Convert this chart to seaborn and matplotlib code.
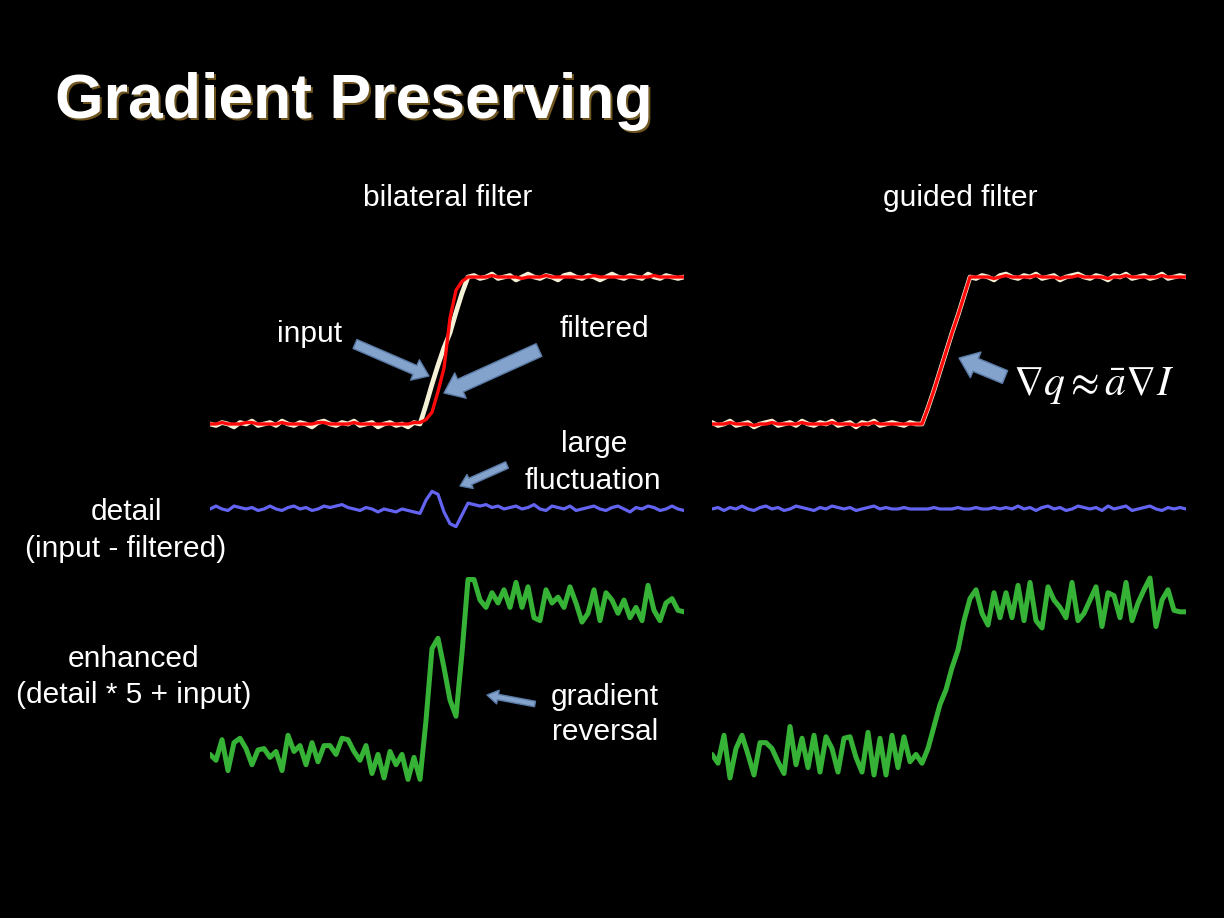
import numpy as np
import pandas as pd
import matplotlib
matplotlib.use("Agg")
import matplotlib.pyplot as plt
import seaborn as sns
from matplotlib.patches import FancyArrowPatch

# ---------------- data (signal units: 0 = low level, 1 = high level) ----------------
sample_idx = list(range(80))

# bilateral filter column
bf_input = [0.0, -0.01, 0.01, 0.0, -0.02, 0.01, 0.0, 0.02, -0.01, 0.0, 0.01, -0.01, 0.02, 0.0, -0.01, 0.01,
            0.0, -0.02, 0.01, 0.02, 0.0, -0.01, 0.01, 0.0, 0.02, -0.01, 0.0, 0.01, -0.02, 0.0, 0.01, -0.01,
            0.0, -0.02, 0.01, 0.0,
            0.13, 0.27, 0.40, 0.52, 0.62, 0.76, 0.89, 1.0,
            1.01, 0.99, 1.0, 1.02, 0.99, 1.0, 1.01, 0.98, 1.0, 1.02, 1.0, 0.99, 1.01, 1.0, 0.98, 1.01,
            1.02, 1.0, 0.99, 1.01, 1.0, 0.98, 1.0, 1.02, 1.0, 0.99, 1.01, 1.0, 0.99, 1.02, 1.0, 0.99,
            1.01, 1.0, 0.99, 1.0]
bf_filtered = [0.0, 0.0, 0.01, 0.0, 0.0, 0.0, 0.01, 0.01, 0.0, 0.0, 0.0, 0.0, 0.01, 0.0, 0.0, 0.0,
               0.0, 0.0, 0.01, 0.01, 0.0, 0.0, 0.0, 0.0, 0.01, 0.0, 0.0, 0.0, 0.0, 0.0, 0.0, 0.0,
               0.0, 0.0, 0.01, 0.01,
               0.03, 0.08, 0.22, 0.38, 0.72, 0.91, 0.97, 1.0,
               1.0, 1.0, 1.0, 1.01, 1.0, 1.0, 1.0, 1.0, 0.99, 1.0, 1.0, 1.0, 1.01, 1.0, 1.0, 1.0,
               1.0, 1.0, 1.0, 1.0, 1.01, 1.0, 1.0, 1.0, 1.0, 1.0, 1.0, 1.0, 1.0, 1.0, 1.01, 1.0,
               1.0, 1.0, 1.0, 1.0]
bf_detail = [0.0, 0.02, 0.0, -0.01, 0.02, 0.01, 0.0, 0.01, -0.01, 0.0, 0.02, 0.0, -0.01, 0.01, 0.02, 0.0,
             0.01, -0.01, 0.0, 0.02, 0.01, 0.02, 0.03, 0.01, 0.0, -0.01, 0.01, 0.0, -0.02, 0.0, -0.01, -0.02,
             0.0, -0.01, -0.02, -0.03,
             0.06, 0.12, 0.10, -0.02, -0.10, -0.12, -0.04, 0.04,
             0.03, 0.02, 0.03, 0.01, 0.02, 0.0, 0.01, 0.02, 0.0, 0.01, 0.03, 0.0, -0.01, 0.02, 0.01, 0.0,
             0.02, -0.01, 0.0, 0.01, 0.02, 0.0, -0.01, 0.01, 0.02, 0.0, -0.02, 0.01, 0.0, 0.02, 0.01, -0.01,
             0.0, 0.02, 0.0, -0.01]
bf_enhanced = [-0.03, -0.07, 0.07, -0.14, 0.05, 0.08, 0.01, -0.10, 0.0, 0.01, -0.05, -0.01, -0.14, 0.10,
               -0.01, 0.03, -0.10, 0.05, -0.08, 0.03, 0.03, -0.03, 0.08, 0.07, -0.01, -0.07, 0.03, -0.16,
               -0.03, -0.19, -0.01, -0.10, -0.03, -0.20, -0.05, -0.20,
               0.20, 0.69, 0.76, 0.56, 0.34, 0.23, 0.66, 1.16,
               1.16, 1.02, 0.97, 1.07, 1.0, 1.09, 0.97, 1.14, 0.97, 1.11, 0.90, 0.88, 1.09, 1.0, 1.04, 0.97,
               1.11, 1.0, 0.87, 0.93, 1.09, 0.88, 1.07, 1.02, 0.93, 1.02, 0.90, 0.97, 0.88, 1.12, 0.95, 0.88,
               1.0, 1.03, 0.95, 0.94]

# guided filter column
gf_input = [0.01, -0.01, 0.0, 0.02, -0.01, 0.0, 0.01, -0.02, 0.0, 0.01, 0.02, -0.01, 0.0, 0.01, -0.01, 0.02,
            0.0, -0.01, 0.01, 0.0, 0.02, -0.01, 0.0, 0.01, -0.02, 0.01, 0.0, 0.02, -0.01, 0.0, 0.01, 0.0,
            -0.01, 0.01, 0.0, 0.0,
            0.11, 0.23, 0.36, 0.49, 0.62, 0.74, 0.87, 1.0,
            0.99, 1.01, 1.0, 0.98, 1.01, 1.02, 1.0, 0.99, 1.01, 1.0, 1.02, 0.99, 1.0, 1.01, 0.98, 1.0,
            1.01, 1.02, 1.0, 0.99, 1.01, 1.0, 0.98, 1.01, 1.0, 1.02, 0.99, 1.0, 1.01, 0.99, 1.0, 1.02,
            0.99, 1.0, 1.01, 1.0]
gf_filtered = [0.0, 0.0, 0.0, 0.01, 0.0, 0.0, 0.0, -0.01, 0.0, 0.0, 0.01, 0.0, 0.0, 0.0, 0.0, 0.01,
               0.0, 0.0, 0.0, 0.0, 0.01, 0.0, 0.0, 0.0, -0.01, 0.0, 0.0, 0.01, 0.0, 0.0, 0.0, 0.0,
               0.0, 0.0, 0.0, 0.0,
               0.11, 0.23, 0.36, 0.49, 0.62, 0.74, 0.87, 1.0,
               1.0, 1.0, 1.0, 0.99, 1.0, 1.01, 1.0, 1.0, 1.0, 1.0, 1.01, 1.0, 1.0, 1.0, 0.99, 1.0,
               1.0, 1.01, 1.0, 1.0, 1.0, 1.0, 0.99, 1.0, 1.0, 1.01, 1.0, 1.0, 1.0, 1.0, 1.0, 1.01,
               1.0, 1.0, 1.0, 1.0]
gf_detail = [0.0, 0.01, -0.01, 0.01, 0.0, 0.02, 0.0, -0.01, 0.01, 0.02, 0.0, 0.01, -0.01, 0.0, 0.02, 0.01,
             0.0, -0.01, 0.01, 0.0, 0.02, 0.01, 0.0, 0.01, -0.01, 0.0, 0.01, 0.02, 0.0, 0.01, 0.0, 0.0,
             0.01, 0.0, 0.0, 0.0,
             0.0, 0.01, 0.0, 0.0, 0.0, 0.01, 0.0, 0.0,
             0.01, 0.0, 0.0, 0.01, 0.0, 0.01, 0.0, 0.02, 0.0, 0.01, -0.01, 0.01, 0.02, 0.0, 0.01, -0.01,
             0.0, 0.02, 0.01, 0.0, 0.01, -0.01, 0.02, 0.0, 0.01, 0.02, -0.01, 0.0, 0.01, 0.02, 0.0, -0.01,
             0.01, 0.0, 0.01, 0.0]
gf_enhanced = [-0.03, -0.09, 0.10, -0.19, 0.01, 0.10, -0.03, -0.17, 0.05, 0.05, 0.01, -0.08, -0.16, 0.16,
               -0.10, 0.08, -0.12, 0.10, -0.15, 0.09, 0.01, -0.15, 0.08, 0.09, -0.05, -0.15, 0.12, -0.17,
               0.08, -0.17, 0.10, -0.12, 0.09, -0.08, -0.03, -0.09,
               0.01, 0.16, 0.31, 0.41, 0.56, 0.68, 0.88, 1.03,
               1.09, 0.93, 0.85, 1.07, 0.90, 1.07, 0.90, 1.12, 0.88, 1.14, 0.88, 0.83, 1.11, 1.02, 0.97, 0.90,
               1.14, 0.88, 0.93, 1.02, 1.11, 0.84, 1.07, 1.05, 0.90, 1.14, 0.88, 1.0, 1.09, 1.17, 0.84, 1.02,
               1.09, 0.95, 0.94, 0.94]

column_titles = ["bilateral filter", "guided filter"]

# ---------------- styling / layout ----------------
sns.set_theme(style="dark")
plt.rcParams['font.family'] = ['Liberation Sans', 'DejaVu Sans']
plt.rcParams['mathtext.fontset'] = 'stix'

W, H = 1224, 918
fig = plt.figure(figsize=(W / 100, H / 100), dpi=100, facecolor='black')

PX_PER_UNIT = 147.0
TOP_BASE, DETAIL_BASE, ENH_BASE = 424, 509, 750
detail_off = (TOP_BASE - DETAIL_BASE) / PX_PER_UNIT
enh_off = (TOP_BASE - ENH_BASE) / PX_PER_UNIT
ax_top_px, ax_bot_px = 250, 800

C_INPUT = '#F4F1D6'
C_FILT = '#FF0A0A'
C_DETAIL = '#6464F2'
C_ENH = '#36B236'


def make_col_axes(left_px, right_px):
    ax = fig.add_axes([left_px / W, (H - ax_bot_px) / H, (right_px - left_px) / W,
                       (ax_bot_px - ax_top_px) / H])
    ax.set_facecolor('black')
    ax.set_xlim(0, len(sample_idx) - 1)
    ax.set_ylim((TOP_BASE - ax_bot_px) / PX_PER_UNIT, (TOP_BASE - ax_top_px) / PX_PER_UNIT)
    ax.axis('off')
    return ax


cols = [
    (make_col_axes(210, 684), bf_input, bf_filtered, bf_detail, bf_enhanced),
    (make_col_axes(712, 1186), gf_input, gf_filtered, gf_detail, gf_enhanced),
]

for ax, inp, filt, det, enh in cols:
    df = pd.DataFrame({'i': sample_idx, 'input': inp, 'filtered': filt,
                       'detail': det, 'enhanced': enh})
    df['detail_pos'] = df['detail'] + detail_off
    df['enh_pos'] = df['enhanced'] + enh_off
    sns.lineplot(data=df, x='i', y='input', ax=ax, color=C_INPUT, linewidth=3.4)
    sns.lineplot(data=df, x='i', y='filtered', ax=ax, color=C_FILT, linewidth=2.4)
    sns.lineplot(data=df, x='i', y='detail_pos', ax=ax, color=C_DETAIL, linewidth=2.3)
    sns.lineplot(data=df, x='i', y='enh_pos', ax=ax, color=C_ENH, linewidth=3.6)
    ax.set_xlim(0, len(sample_idx) - 1)

# ---------------- overlay for text & annotation arrows ----------------
ov = fig.add_axes([0, 0, 1, 1], facecolor='none')
ov.set_xlim(0, W)
ov.set_ylim(H, 0)
ov.axis('off')

# title with shadow
ov.text(57, 120, "Gradient Preserving", fontsize=45, fontweight='bold', color='#6E5520',
        ha='left', va='baseline')
ov.text(55, 118, "Gradient Preserving", fontsize=45, fontweight='bold', color='white',
        ha='left', va='baseline')

lab = dict(color='white', fontsize=21.5, ha='center', va='center')
ov.text(448, 198, column_titles[0], **lab)
ov.text(960, 198, column_titles[1], **lab)
ov.text(310, 334, "input", **lab)
ov.text(604, 329, "filtered", **lab)
ov.text(594, 444, "large", **lab)
ov.text(593, 481, "fluctuation", **lab)
ov.text(126, 512, "detail", **lab)
ov.text(126, 549, "(input - filtered)", **lab)
ov.text(134, 659, "enhanced", **lab)
ov.text(134, 695, "(detail * 5 + input)", **lab)
ov.text(605, 697, "gradient", **lab)
ov.text(605, 732, "reversal", **lab)
ov.text(1013, 386, r"$\nabla q \approx \bar{a}\nabla I$", color='white', fontsize=30,
        ha='left', va='center')


def block_arrow(tail, tip, tail_w, head_w, head_l):
    p = FancyArrowPatch(tail, tip,
                        arrowstyle=f"simple,head_length={head_l},head_width={head_w},tail_width={tail_w}",
                        facecolor='#84A3CC', edgecolor='#5A7BA6', linewidth=1.0,
                        shrinkA=0, shrinkB=0, mutation_scale=1)
    ov.add_patch(p)


block_arrow((355, 344), (429, 376), 7, 16, 11)
block_arrow((539, 350), (444, 393), 10, 20, 13)
block_arrow((1005, 377), (959, 358), 10, 20, 13)
block_arrow((507, 465), (460, 486), 5, 11, 8)
block_arrow((535, 704), (487, 695), 4, 10, 8)

fig.savefig("out.png", dpi=100, facecolor='black')
